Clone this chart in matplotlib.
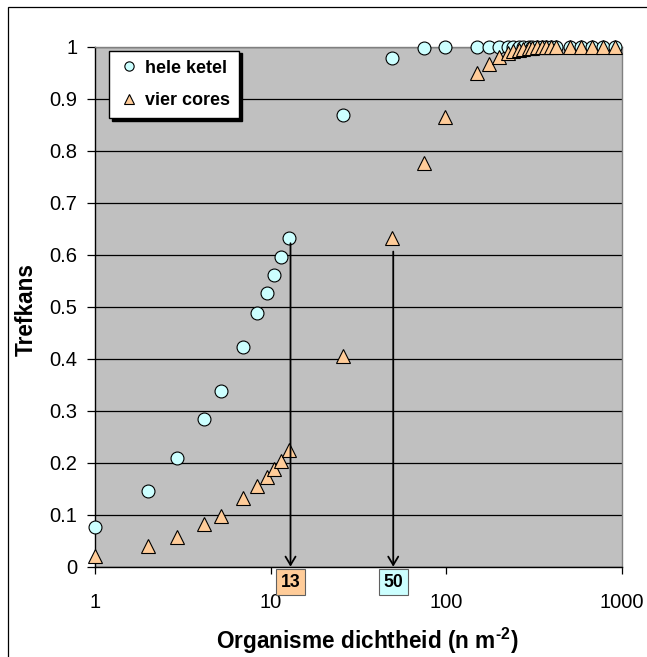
import matplotlib
matplotlib.use("Agg")
import matplotlib.pyplot as plt
from matplotlib.patches import Rectangle

plt.rcParams['font.family'] = ['Liberation Sans', 'DejaVu Sans']
plt.rcParams['mathtext.fontset'] = 'custom'
plt.rcParams['mathtext.rm'] = 'Liberation Sans:bold'
plt.rcParams['mathtext.bf'] = 'Liberation Sans:bold'

# ---- data ----
density = [1, 2, 2.95, 4.2, 5.2, 7, 8.4, 9.5, 10.45, 11.5, 12.8, 25.8, 49.4, 74.5, 98,
           150, 175, 200, 225, 240, 260, 275, 295, 310, 330, 350, 370, 395, 425,
           510, 590, 675, 785, 915]
hele_ketel = [0.077, 0.145, 0.210, 0.285, 0.338, 0.423, 0.487, 0.527, 0.561, 0.595,
              0.633, 0.869, 0.979, 0.997, 1.0,
              1, 1, 1, 1, 1, 1, 1, 1, 1, 1, 1, 1, 1, 1,
              1, 1, 1, 1, 1]
vier_cores = [0.021, 0.040, 0.058, 0.082, 0.097, 0.132, 0.156, 0.172, 0.188, 0.204,
              0.224, 0.405, 0.632, 0.776, 0.864,
              0.949, 0.967, 0.980, 0.987, 0.991, 0.994, 0.996, 0.997, 0.998, 0.999,
              0.999, 1, 1, 1,
              1, 1, 1, 1, 1]
series_names = ['hele ketel', 'vier cores']
arrow_x = [13, 50]
arrow_top = [0.622, 0.606]
arrow_labels = ['13', '50']
yticks = [0, 0.1, 0.2, 0.3, 0.4, 0.5, 0.6, 0.7, 0.8, 0.9, 1]
ytick_labels = ['0', '0.1', '0.2', '0.3', '0.4', '0.5', '0.6', '0.7', '0.8', '0.9', '1']
xticks = [1, 10, 100, 1000]
xtick_labels = ['1', '10', '100', '1000']

circle_color = '#CCFFFF'
tri_color = '#FFCC99'

W, H = 647, 657
fig = plt.figure(figsize=(W / 100, H / 100), dpi=100)
fig.patch.set_facecolor('white')

# axes placement in pixels
left_px, right_px, top_px, bottom_px = 94.9, 621.7, 46.7, 566.7
ax = fig.add_axes([left_px / W, 1 - bottom_px / H,
                   (right_px - left_px) / W, (bottom_px - top_px) / H])
ax.set_facecolor('#C0C0C0')
ax.set_xscale('log')
ax.set_xlim(1, 1000)
ax.set_ylim(0, 1)

ax.set_axisbelow(True)
ax.yaxis.grid(True, color='black', linewidth=0.9)
ax.xaxis.grid(False)

for s in ['top', 'right']:
    ax.spines[s].set_color('#808080')
    ax.spines[s].set_linewidth(1.0)
for s in ['left', 'bottom']:
    ax.spines[s].set_color('black')
    ax.spines[s].set_linewidth(1.0)

ax.set_yticks(yticks)
ax.set_yticklabels(ytick_labels)
ax.set_xticks(xticks)
ax.set_xticklabels(xtick_labels)
ax.xaxis.set_minor_locator(matplotlib.ticker.NullLocator())
ax.tick_params(axis='y', direction='out', length=5.5, width=0.9, pad=7,
               labelsize=14.5, colors='black')
ax.tick_params(axis='x', direction='out', length=4.8, width=0.9, pad=14,
               labelsize=14.5, colors='black')

# series
l1, = ax.plot(density, hele_ketel, linestyle='none', marker='o', markersize=9.3,
              markerfacecolor=circle_color, markeredgecolor='black',
              markeredgewidth=0.8, clip_on=False, zorder=3)
l2, = ax.plot(density, vier_cores, linestyle='none', marker='^', markersize=10,
              markerfacecolor=tri_color, markeredgecolor='black',
              markeredgewidth=0.8, clip_on=False, zorder=4)

# arrows and label boxes
box_colors = [tri_color, circle_color]
for xv, yt, lab, bc in zip(arrow_x, arrow_top, arrow_labels, box_colors):
    ax.annotate('', xy=(xv, 0), xytext=(xv, yt),
                arrowprops=dict(arrowstyle='->,head_length=0.5,head_width=0.3',
                                mutation_scale=12, lw=1.3, color='black',
                                shrinkA=0, shrinkB=0), zorder=5)
    ax.annotate(lab, xy=(xv, 0), xycoords='data', xytext=(0, -15.3),
                textcoords='offset pixels', ha='center', va='center',
                fontsize=12.7, fontweight='bold', annotation_clip=False,
                bbox=dict(boxstyle='square,pad=0.27', facecolor=bc,
                          edgecolor='#606060', linewidth=0.8), zorder=6)

# legend
leg = ax.legend([l1, l2], series_names, loc='upper left',
                bbox_to_anchor=(0.0273, 0.9923), borderaxespad=0,
                prop={'weight': 'bold', 'size': 13}, frameon=True,
                fancybox=False, edgecolor='black', framealpha=1,
                handlelength=1.2, handletextpad=0.3, labelspacing=0.85,
                borderpad=0.5, markerscale=0.72,
                shadow={'color': 'black', 'alpha': 1, 'ox': 2, 'oy': -2})
leg.get_frame().set_linewidth(1.0)

# axis labels
ax.set_xlabel(r'Organisme dichtheid (n m$^{\text{-2}}$)', fontsize=16.3,
              fontweight='bold')
ax.xaxis.set_label_coords(0.5165, -0.1429)
ax.xaxis.label.set_va('center')
ax.set_ylabel('Trefkans', fontsize=16.3, fontweight='bold')
ax.yaxis.set_label_coords(-0.1295, 0.4937)
ax.yaxis.label.set_va('center')

# outer border (left and top visible)
fig.add_artist(Rectangle((8 / W, -0.1), 1.2, (1 - 7 / H) + 0.1,
                         transform=fig.transFigure, fill=False,
                         edgecolor='black', linewidth=0.9))

fig.savefig('out.png', dpi=100)
